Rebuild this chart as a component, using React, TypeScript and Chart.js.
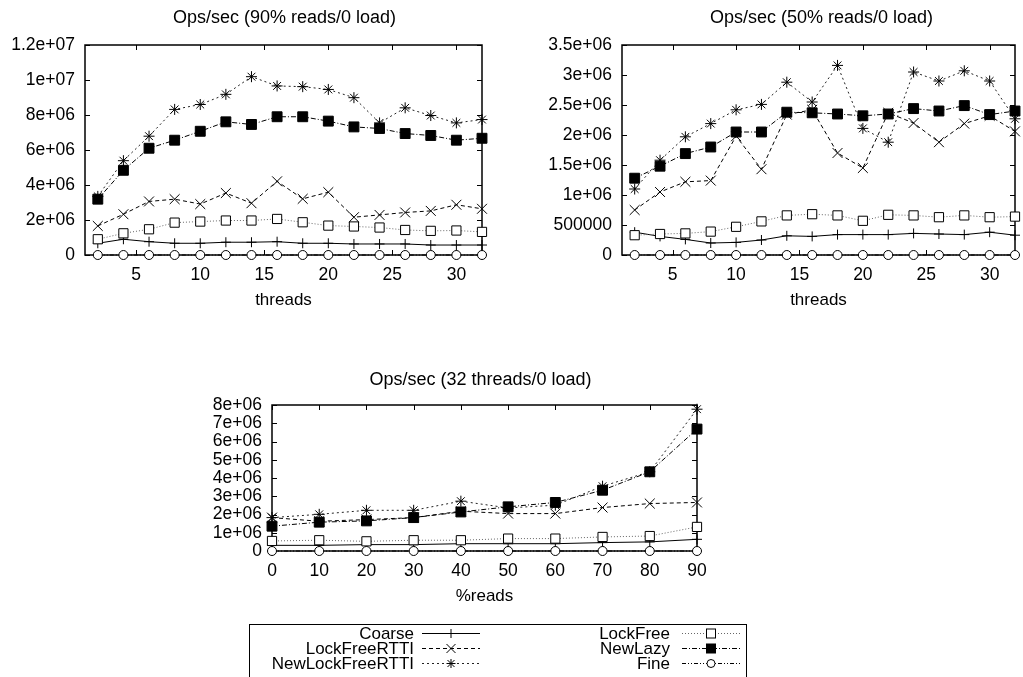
import React, { useEffect, useRef } from "react";
import { Chart, registerables } from "chart.js";

Chart.register(...registerables);

const FONT = '"Liberation Sans", Arial, Helvetica, sans-serif';
Chart.defaults.font.family = FONT;
Chart.defaults.color = "#000";

// ---------- data ----------
const seriesNames = ["Coarse", "LockFreeRTTI", "NewLockFreeRTTI", "LockFree", "NewLazy", "Fine"];

const threads = [2, 4, 6, 8, 10, 12, 14, 16, 18, 20, 22, 24, 26, 28, 30, 32];
const percentReads = [0, 10, 20, 30, 40, 50, 60, 70, 80, 90];

const threadTicks = [5, 10, 15, 20, 25, 30];
const readTicks = [0, 10, 20, 30, 40, 50, 60, 70, 80, 90];
const yTicks90 = [0, 2000000, 4000000, 6000000, 8000000, 10000000, 12000000];
const yTicks50 = [0, 500000, 1000000, 1500000, 2000000, 2500000, 3000000, 3500000];
const yTicks32 = [0, 1000000, 2000000, 3000000, 4000000, 5000000, 6000000, 7000000, 8000000];

// 90% reads / 0 load
const coarse90 = [670000, 900000, 760000, 670000, 670000, 730000, 730000, 760000, 670000, 670000, 630000, 630000, 630000, 570000, 570000, 570000];
const lockFreeRTTI90 = [1660000, 2330000, 3060000, 3190000, 2910000, 3540000, 2960000, 4210000, 3210000, 3590000, 2160000, 2290000, 2430000, 2520000, 2870000, 2640000];
const newLockFreeRTTI90 = [3350000, 5390000, 6790000, 8320000, 8600000, 9180000, 10190000, 9660000, 9620000, 9460000, 8990000, 7550000, 8410000, 7970000, 7550000, 7740000];
const lockFree90 = [900000, 1240000, 1470000, 1850000, 1910000, 1970000, 1970000, 2060000, 1870000, 1680000, 1630000, 1570000, 1430000, 1380000, 1400000, 1320000];
const newLazy90 = [3190000, 4840000, 6100000, 6560000, 7070000, 7610000, 7460000, 7900000, 7900000, 7650000, 7320000, 7230000, 6940000, 6830000, 6560000, 6670000];
const fine90 = [0, 0, 0, 0, 0, 0, 0, 0, 0, 0, 0, 0, 0, 0, 0, 0];

// 50% reads / 0 load
const coarse50 = [380000, 310000, 260000, 200000, 210000, 250000, 320000, 310000, 340000, 340000, 340000, 360000, 350000, 340000, 380000, 330000];
const lockFreeRTTI50 = [750000, 1050000, 1220000, 1240000, 1980000, 1430000, 2340000, 2420000, 1700000, 1450000, 2370000, 2200000, 1880000, 2190000, 2320000, 2060000];
const newLockFreeRTTI50 = [1100000, 1580000, 1970000, 2190000, 2420000, 2510000, 2880000, 2550000, 3160000, 2110000, 1880000, 3050000, 2900000, 3070000, 2900000, 2270000];
const lockFree50 = [330000, 350000, 360000, 390000, 470000, 560000, 660000, 680000, 660000, 570000, 670000, 660000, 630000, 660000, 630000, 640000];
const newLazy50 = [1280000, 1480000, 1690000, 1800000, 2050000, 2050000, 2380000, 2370000, 2350000, 2320000, 2350000, 2440000, 2400000, 2490000, 2340000, 2400000];
const fine50 = [0, 0, 0, 0, 0, 0, 0, 0, 0, 0, 0, 0, 0, 0, 0, 0];

// 32 threads / 0 load
const coarse32 = [310000, 310000, 350000, 350000, 400000, 400000, 400000, 460000, 500000, 640000];
const lockFreeRTTI32 = [1830000, 1630000, 1720000, 1830000, 2180000, 2050000, 2050000, 2380000, 2600000, 2660000];
const newLockFreeRTTI32 = [1830000, 2010000, 2230000, 2230000, 2730000, 2360000, 2510000, 3550000, 4340000, 7770000];
const lockFree32 = [550000, 590000, 530000, 590000, 590000, 680000, 680000, 770000, 820000, 1320000];
const newLazy32 = [1360000, 1580000, 1650000, 1830000, 2140000, 2420000, 2660000, 3330000, 4340000, 6680000];
const fine32 = [0, 0, 0, 0, 0, 0, 0, 0, 0, 0];

// ---------- styles ----------
type St = { dash: number[]; color: string; point: string; radius: number; fill: string };
const seriesStyles: St[] = [
  { dash: [], color: "#000", point: "cross", radius: 5, fill: "#000" },
  { dash: [4, 3], color: "#000", point: "crossRot", radius: 7, fill: "#000" },
  { dash: [2, 3], color: "#222", point: "star", radius: 5.5, fill: "#000" },
  { dash: [1, 2], color: "#666", point: "rect", radius: 6.5, fill: "#fff" },
  { dash: [5, 2, 1, 2], color: "#000", point: "rect", radius: 7, fill: "#000" },
  { dash: [4, 2, 1, 2, 1, 2], color: "#000", point: "circle", radius: 4.5, fill: "#fff" },
];

function gfmt(v: number): string {
  if (v === 0) return "0";
  const exp = Math.floor(Math.log10(Math.abs(v)) + 1e-9);
  if (exp < 6) return String(Math.round(v));
  const m = parseFloat((v / Math.pow(10, exp)).toPrecision(6));
  return `${m}e+${String(exp).padStart(2, "0")}`;
}

const gpPlugin = {
  id: "gp",
  beforeDatasetsDraw(chart: any, _args: any, opts: any) {
    const { ctx, chartArea: a, scales } = chart;
    ctx.save();
    ctx.setLineDash([]);
    ctx.strokeStyle = "#000";
    ctx.lineWidth = 1;
    ctx.beginPath();
    for (const v of opts.xTicks) {
      const p = Math.round(scales.x.getPixelForValue(v)) + 0.5;
      ctx.moveTo(p, a.bottom);
      ctx.lineTo(p, a.bottom - 5);
      ctx.moveTo(p, a.top);
      ctx.lineTo(p, a.top + 5);
    }
    for (const v of opts.yTicks) {
      const p = Math.round(scales.y.getPixelForValue(v)) + 0.5;
      ctx.moveTo(a.left, p);
      ctx.lineTo(a.left + 5, p);
      ctx.moveTo(a.right, p);
      ctx.lineTo(a.right - 5, p);
    }
    ctx.stroke();
    ctx.lineWidth = 1.5;
    ctx.strokeRect(a.left, a.top, a.right - a.left, a.bottom - a.top);
    ctx.restore();
  },
  afterDraw(chart: any, _args: any, opts: any) {
    const { ctx, chartArea: a } = chart;
    ctx.save();
    ctx.font = `${opts.titleSize}px ${FONT}`;
    ctx.fillStyle = "#000";
    ctx.textAlign = "center";
    ctx.textBaseline = "middle";
    ctx.fillText(opts.title, (a.left + a.right) / 2 + opts.titleDx, a.top - opts.titleGap);
    ctx.restore();
  },
};

type PlotDef = {
  left: number;
  top: number;
  width: number;
  height: number;
  xs: number[];
  ys: number[][];
  xMin: number;
  xMax: number;
  xTicks: number[];
  yTicks: number[];
  xLabel: string;
  title: string;
  titleDx: number;
  titleGap: number;
  yWidth: number;
  padding: { left: number; top: number; right: number; bottom: number };
};

function buildConfig(p: PlotDef): any {
  const datasets = p.ys.map((vals, i) => {
    const s = seriesStyles[i];
    return {
      label: seriesNames[i],
      data: p.xs.map((x, j) => ({ x, y: vals[j] })),
      borderColor: s.color,
      borderWidth: 1,
      borderDash: s.dash,
      pointStyle: s.point,
      pointRadius: s.radius,
      pointHoverRadius: s.radius,
      pointBorderColor: "#000",
      pointBackgroundColor: s.fill,
      pointBorderWidth: 1,
      fill: false,
      tension: 0,
      clip: false,
      order: seriesNames.length - i,
    };
  });
  return {
    type: "line",
    data: { datasets },
    plugins: [gpPlugin],
    options: {
      responsive: false,
      animation: false,
      devicePixelRatio: 1,
      events: [],
      layout: { padding: p.padding },
      plugins: {
        legend: { display: false },
        title: { display: false },
        tooltip: { enabled: false },
        gp: {
          xTicks: p.xTicks,
          yTicks: p.yTicks,
          title: p.title,
          titleSize: 18,
          titleDx: p.titleDx,
          titleGap: p.titleGap,
        },
      },
      scales: {
        x: {
          type: "linear",
          min: p.xMin,
          max: p.xMax,
          grid: { display: false, drawTicks: false },
          border: { display: false },
          afterBuildTicks: (sc: any) => {
            sc.ticks = p.xTicks.map((v) => ({ value: v }));
          },
          afterFit: (sc: any) => {
            sc.height = 56;
          },
          ticks: {
            padding: 10,
            autoSkip: false,
            maxRotation: 0,
            color: "#000",
            font: { size: 17.5 },
            callback: (v: any) => String(v),
          },
          title: {
            display: true,
            text: p.xLabel,
            color: "#000",
            font: { size: 17 },
            padding: { top: 0, bottom: 0 },
          },
        },
        y: {
          type: "linear",
          min: p.yTicks[0],
          max: p.yTicks[p.yTicks.length - 1],
          grid: { display: false, drawTicks: false },
          border: { display: false },
          afterBuildTicks: (sc: any) => {
            sc.ticks = p.yTicks.map((v) => ({ value: v }));
          },
          afterFit: (sc: any) => {
            sc.width = p.yWidth;
          },
          ticks: {
            padding: 10,
            autoSkip: false,
            color: "#000",
            font: { size: 17.5 },
            callback: (v: any) => gfmt(Number(v)),
          },
        },
      },
    },
  };
}

const plots: PlotDef[] = [
  {
    left: 0, top: 0, width: 500, height: 320,
    xs: threads,
    ys: [coarse90, lockFreeRTTI90, newLockFreeRTTI90, lockFree90, newLazy90, fine90],
    xMin: 1, xMax: 32, xTicks: threadTicks, yTicks: yTicks90,
    xLabel: "threads", title: "Ops/sec (90% reads/0 load)", titleDx: 1, titleGap: 27,
    yWidth: 85, padding: { left: 0, top: 45, right: 18, bottom: 9 },
  },
  {
    left: 520, top: 0, width: 503, height: 320,
    xs: threads,
    ys: [coarse50, lockFreeRTTI50, newLockFreeRTTI50, lockFree50, newLazy50, fine50],
    xMin: 1, xMax: 32, xTicks: threadTicks, yTicks: yTicks50,
    xLabel: "threads", title: "Ops/sec (50% reads/0 load)", titleDx: 3, titleGap: 27,
    yWidth: 102, padding: { left: 0, top: 45, right: 4, bottom: 9 },
  },
  {
    left: 180, top: 360, width: 540, height: 260,
    xs: percentReads,
    ys: [coarse32, lockFreeRTTI32, newLockFreeRTTI32, lockFree32, newLazy32, fine32],
    xMin: 0, xMax: 90, xTicks: readTicks, yTicks: yTicks32,
    xLabel: "%reads", title: "Ops/sec (32 threads/0 load)", titleDx: -4, titleGap: 25,
    yWidth: 92, padding: { left: 0, top: 45, right: 23, bottom: 13 },
  },
];

function Plot({ def }: { def: PlotDef }) {
  const ref = useRef<HTMLCanvasElement | null>(null);
  useEffect(() => {
    if (!ref.current) return;
    const chart = new Chart(ref.current, buildConfig(def));
    return () => chart.destroy();
  }, [def]);
  return (
    <canvas
      ref={ref}
      width={def.width}
      height={def.height}
      style={{ position: "absolute", left: def.left, top: def.top, width: def.width, height: def.height }}
    />
  );
}

function Marker({ x, y, s }: { x: number; y: number; s: St }) {
  const r = 4.5;
  if (s.point === "cross")
    return <path d={`M${x - r} ${y}H${x + r}M${x} ${y - r}V${y + r}`} stroke="#000" strokeWidth={1} />;
  if (s.point === "crossRot")
    return <path d={`M${x - r} ${y - r}L${x + r} ${y + r}M${x - r} ${y + r}L${x + r} ${y - r}`} stroke="#000" strokeWidth={1} />;
  if (s.point === "star")
    return (
      <path
        d={`M${x - r} ${y}H${x + r}M${x} ${y - r}V${y + r}M${x - 3.5} ${y - 3.5}L${x + 3.5} ${y + 3.5}M${x - 3.5} ${y + 3.5}L${x + 3.5} ${y - 3.5}`}
        stroke="#000"
        strokeWidth={1}
      />
    );
  if (s.point === "rect")
    return <rect x={x - r} y={y - r} width={2 * r} height={2 * r} fill={s.fill} stroke="#000" strokeWidth={1} />;
  return <circle cx={x} cy={y} r={4} fill="#fff" stroke="#000" strokeWidth={1} />;
}

function Legend() {
  const rowY = [633, 648, 663];
  const cols = [
    { textX: 414, x1: 422, x2: 480 },
    { textX: 670, x1: 682, x2: 740 },
  ];
  return (
    <svg
      width={1023}
      height={677}
      style={{ position: "absolute", left: 0, top: 0, pointerEvents: "none" }}
    >
      <rect x={249.5} y={624.5} width={497} height={70} fill="none" stroke="#000" strokeWidth={1} />
      {seriesNames.map((name, i) => {
        const c = cols[Math.floor(i / 3)];
        const y = rowY[i % 3];
        const s = seriesStyles[i];
        return (
          <g key={name}>
            <text
              x={c.textX}
              y={y}
              textAnchor="end"
              dominantBaseline="central"
              fontFamily={FONT}
              fontSize={17}
              fill="#000"
            >
              {name}
            </text>
            <line
              x1={c.x1}
              x2={c.x2}
              y1={y + 0.5}
              y2={y + 0.5}
              stroke={s.color}
              strokeWidth={1}
              strokeDasharray={s.dash.length ? s.dash.join(" ") : undefined}
            />
            <Marker x={(c.x1 + c.x2) / 2} y={y + 0.5} s={s} />
          </g>
        );
      })}
    </svg>
  );
}

export default function App() {
  return (
    <div
      style={{
        position: "absolute",
        left: 0,
        top: 0,
        width: 1023,
        height: 677,
        overflow: "hidden",
        background: "#fff",
      }}
    >
      {plots.map((p, i) => (
        <Plot key={i} def={p} />
      ))}
      <Legend />
    </div>
  );
}
